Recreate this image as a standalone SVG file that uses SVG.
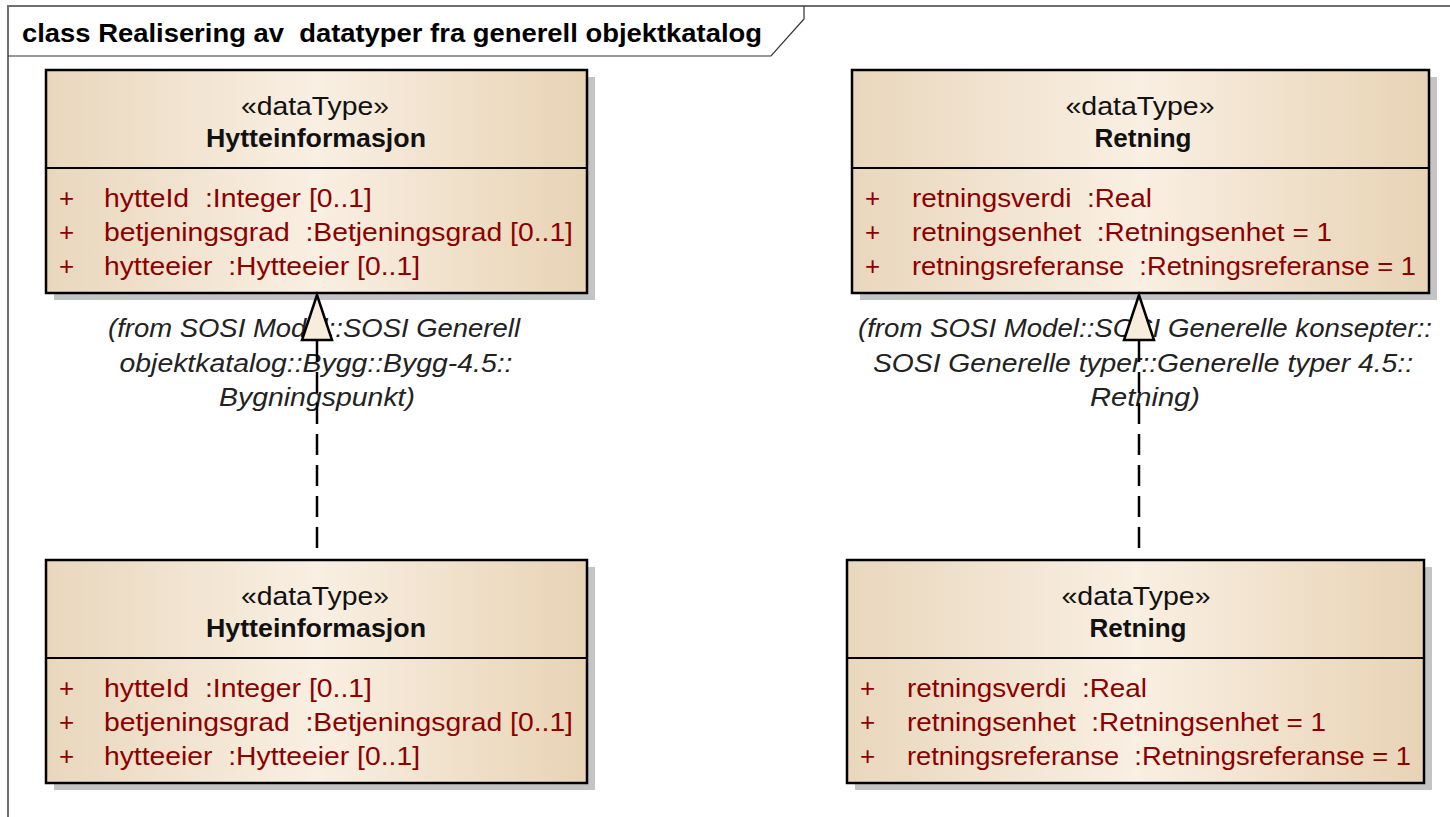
<svg xmlns="http://www.w3.org/2000/svg" width="1450" height="817" viewBox="0 0 1450 817">
<defs>
<linearGradient id="fill" x1="0" y1="0" x2="1" y2="0">
<stop offset="0" stop-color="#e9d7bd"/>
<stop offset="0.5" stop-color="#f9efe2"/>
<stop offset="1" stop-color="#e8d3b5"/>
</linearGradient>
</defs>
<style>
text{font-family:"Liberation Sans",Arial,sans-serif;font-size:26px;white-space:pre}
.box{fill:url(#fill);stroke:#000;stroke-width:2.5}
.shadow{fill:#c4c4c4}
.div{stroke:#000;stroke-width:2}
.st{fill:#111;text-anchor:middle}
.nm{fill:#111;font-weight:bold;text-anchor:middle}
.at{fill:#8c0000}
.lbl{fill:#222;font-style:italic;text-anchor:middle}
.dash{stroke:#000;stroke-width:2.5;stroke-dasharray:21 10;fill:none}
.tri{fill:#f8eddc;stroke:#000;stroke-width:2.5;stroke-linejoin:miter}
.frame{fill:none;stroke:#707070;stroke-width:2}
.tab{fill:none;stroke:#333;stroke-width:1.2}
</style>
<rect width="1450" height="817" fill="#fff"/>
<g id="frame">
<path class="frame" d="M8,817 L8,6 L1450,6"/>
<path class="tab" d="M8,56 L771,56 L804,19 L804,6"/>
<text x="22" y="42" font-weight="bold" fill="#000" textLength="740" lengthAdjust="spacingAndGlyphs">class Realisering av  datatyper fra generell objektkatalog</text>
</g>

<g id="labels">
<text class="lbl" x="314" y="337" textLength="412" lengthAdjust="spacingAndGlyphs">(from SOSI Model::SOSI Generell</text>
<text class="lbl" x="316" y="372" textLength="393" lengthAdjust="spacingAndGlyphs">objektkatalog::Bygg::Bygg-4.5::</text>
<text class="lbl" x="317" y="406" textLength="196" lengthAdjust="spacingAndGlyphs">Bygningspunkt)</text>
<text class="lbl" x="1145" y="337" textLength="574" lengthAdjust="spacingAndGlyphs">(from SOSI Model::SOSI Generelle konsepter::</text>
<text class="lbl" x="1143" y="372" textLength="540" lengthAdjust="spacingAndGlyphs">SOSI Generelle typer::Generelle typer 4.5::</text>
<text class="lbl" x="1145" y="406" textLength="110" lengthAdjust="spacingAndGlyphs">Retning)</text>
</g>

<g id="Hytteinformasjon_top">
<rect class="shadow" x="54" y="77" width="541" height="223"/>
<rect class="box" x="46" y="70" width="541" height="223"/>
<line class="div" x1="46" y1="168" x2="587" y2="168"/>
<text class="st" x="315" y="115" textLength="148" lengthAdjust="spacingAndGlyphs">«dataType»</text>
<text class="nm" x="316" y="147" textLength="220" lengthAdjust="spacingAndGlyphs">Hytteinformasjon</text>
<text class="at" x="59" y="207">+</text>
<text class="at" x="104" y="207" textLength="268" lengthAdjust="spacingAndGlyphs">hytteId  :Integer [0..1]</text>
<text class="at" x="59" y="241">+</text>
<text class="at" x="104" y="241" textLength="469" lengthAdjust="spacingAndGlyphs">betjeningsgrad  :Betjeningsgrad [0..1]</text>
<text class="at" x="59" y="275">+</text>
<text class="at" x="104" y="275" textLength="316" lengthAdjust="spacingAndGlyphs">hytteeier  :Hytteeier [0..1]</text>
</g>

<g id="Retning_top">
<rect class="shadow" x="860" y="77" width="577" height="223"/>
<rect class="box" x="852" y="70" width="577" height="223"/>
<line class="div" x1="852" y1="168" x2="1429" y2="168"/>
<text class="st" x="1140" y="115" textLength="149" lengthAdjust="spacingAndGlyphs">«dataType»</text>
<text class="nm" x="1143" y="147" textLength="97" lengthAdjust="spacingAndGlyphs">Retning</text>
<text class="at" x="865" y="207">+</text>
<text class="at" x="912" y="207" textLength="240" lengthAdjust="spacingAndGlyphs">retningsverdi  :Real</text>
<text class="at" x="865" y="241">+</text>
<text class="at" x="912" y="241" textLength="420" lengthAdjust="spacingAndGlyphs">retningsenhet  :Retningsenhet = 1</text>
<text class="at" x="865" y="275">+</text>
<text class="at" x="912" y="275" textLength="504" lengthAdjust="spacingAndGlyphs">retningsreferanse  :Retningsreferanse = 1</text>
</g>

<g id="Hytteinformasjon_bottom">
<rect class="shadow" x="54" y="567" width="541" height="223"/>
<rect class="box" x="46" y="560" width="541" height="223"/>
<line class="div" x1="46" y1="658" x2="587" y2="658"/>
<text class="st" x="315" y="605" textLength="148" lengthAdjust="spacingAndGlyphs">«dataType»</text>
<text class="nm" x="316" y="637" textLength="220" lengthAdjust="spacingAndGlyphs">Hytteinformasjon</text>
<text class="at" x="59" y="697">+</text>
<text class="at" x="104" y="697" textLength="268" lengthAdjust="spacingAndGlyphs">hytteId  :Integer [0..1]</text>
<text class="at" x="59" y="731">+</text>
<text class="at" x="104" y="731" textLength="469" lengthAdjust="spacingAndGlyphs">betjeningsgrad  :Betjeningsgrad [0..1]</text>
<text class="at" x="59" y="765">+</text>
<text class="at" x="104" y="765" textLength="316" lengthAdjust="spacingAndGlyphs">hytteeier  :Hytteeier [0..1]</text>
</g>

<g id="Retning_bottom">
<rect class="shadow" x="855" y="567" width="577" height="223"/>
<rect class="box" x="847" y="560" width="577" height="223"/>
<line class="div" x1="847" y1="658" x2="1424" y2="658"/>
<text class="st" x="1136" y="605" textLength="149" lengthAdjust="spacingAndGlyphs">«dataType»</text>
<text class="nm" x="1138" y="637" textLength="97" lengthAdjust="spacingAndGlyphs">Retning</text>
<text class="at" x="860" y="697">+</text>
<text class="at" x="907" y="697" textLength="240" lengthAdjust="spacingAndGlyphs">retningsverdi  :Real</text>
<text class="at" x="860" y="731">+</text>
<text class="at" x="907" y="731" textLength="419" lengthAdjust="spacingAndGlyphs">retningsenhet  :Retningsenhet = 1</text>
<text class="at" x="860" y="765">+</text>
<text class="at" x="907" y="765" textLength="504" lengthAdjust="spacingAndGlyphs">retningsreferanse  :Retningsreferanse = 1</text>
</g>

<g id="connectors">
<line class="dash" x1="317" y1="548" x2="317" y2="340"/>
<polygon class="tri" points="317,295 302,340 332,340"/>
<line class="dash" x1="1139" y1="548" x2="1139" y2="340"/>
<polygon class="tri" points="1139,295 1124,340 1154,340"/>
</g>
</svg>
